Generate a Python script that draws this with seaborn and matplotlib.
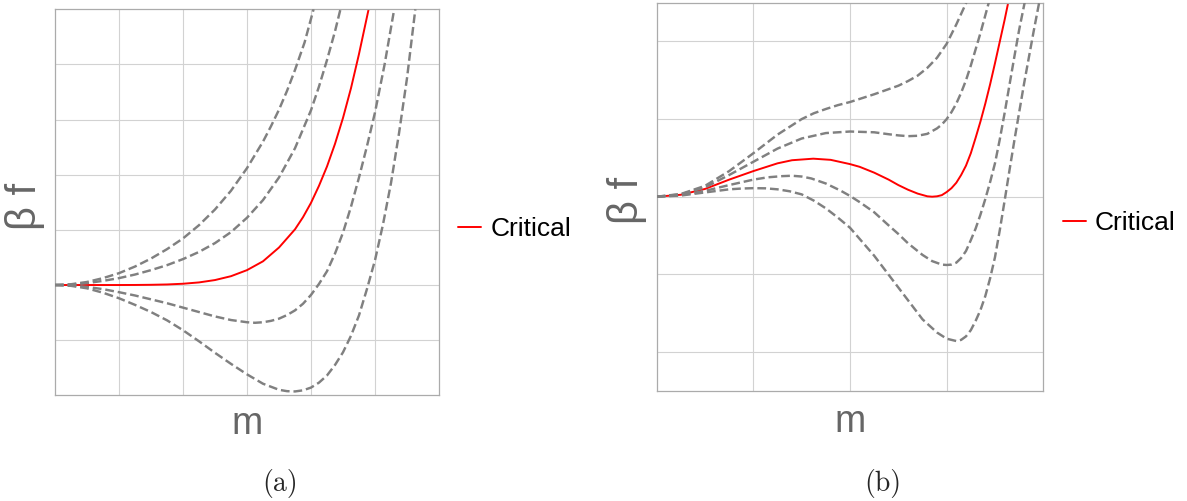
import numpy as np
import matplotlib
matplotlib.use("Agg")
import matplotlib.pyplot as plt
import seaborn as sns

sns.set_style("whitegrid", {"grid.color": "#d2d2d2", "axes.edgecolor": "#ababab"})
plt.rcParams['font.family'] = ['Liberation Sans', 'DejaVu Sans']

# panel (a): curves, from top to bottom
a_m1 = [0, 0.25, 0.5, 0.75, 1.0, 1.25, 1.5, 1.75, 2.0, 2.25, 2.5, 2.75, 3.0, 3.25, 3.375, 3.5, 3.625, 3.75, 3.9, 4.04]
a_f1 = [0, 0.014, 0.055, 0.125, 0.215, 0.335, 0.48, 0.65, 0.845, 1.085, 1.37, 1.71, 2.12, 2.6, 2.88, 3.18, 3.52, 3.9, 4.4, 5.0]
a_m2 = [0, 0.25, 0.5, 0.75, 1.0, 1.25, 1.5, 1.75, 2.0, 2.25, 2.5, 2.75, 3.0, 3.25, 3.5, 3.75, 4.0, 4.125, 4.25, 4.375, 4.46]
a_f2 = [0, 0.008, 0.035, 0.075, 0.125, 0.19, 0.27, 0.36, 0.47, 0.6, 0.76, 0.96, 1.22, 1.54, 1.95, 2.48, 3.17, 3.6, 4.08, 4.6, 5.0]
a_mc = [0, 0.5, 0.75, 1.0, 1.25, 1.5, 1.75, 2.0, 2.25, 2.5, 2.75, 3.0, 3.25, 3.5, 3.75, 3.875, 4.0, 4.125, 4.25, 4.375, 4.5, 4.625, 4.75, 4.9]
a_fc = [0, 0.0, 0.0, 0.0, 0.001, 0.004, 0.01, 0.023, 0.047, 0.09, 0.16, 0.27, 0.43, 0.68, 1.01, 1.23, 1.49, 1.8, 2.15, 2.56, 3.03, 3.57, 4.19, 5.0]
a_m4 = [0, 0.25, 0.5, 0.75, 1.0, 1.25, 1.5, 1.75, 2.0, 2.25, 2.5, 2.75, 3.0, 3.125, 3.25, 3.375, 3.5, 3.625, 3.75, 3.875,
        4.0, 4.125, 4.25, 4.375, 4.5, 4.625, 4.75, 4.875, 5.0, 5.15, 5.3]
a_f4 = [0, -0.008, -0.035, -0.075, -0.13, -0.19, -0.26, -0.33, -0.41, -0.49, -0.57, -0.635, -0.675, -0.685, -0.675, -0.65, -0.61, -0.545, -0.46, -0.34,
        -0.18, 0.02, 0.25, 0.57, 0.95, 1.42, 1.95, 2.52, 3.13, 4.0, 5.0]
a_m5 = [0, 0.25, 0.5, 0.75, 1.0, 1.25, 1.5, 1.75, 2.0, 2.25, 2.5, 2.75, 3.0, 3.25, 3.5, 3.625, 3.75, 3.875, 4.0, 4.125, 4.25,
        4.375, 4.5, 4.625, 4.75, 4.875, 5.0, 5.125, 5.25, 5.375, 5.5, 5.63]
a_f5 = [0, -0.015, -0.06, -0.14, -0.24, -0.36, -0.49, -0.64, -0.82, -1.02, -1.23, -1.43, -1.62, -1.79, -1.9, -1.925, -1.93, -1.91, -1.86, -1.77, -1.64,
        -1.45, -1.22, -0.92, -0.55, -0.07, 0.45, 1.1, 1.85, 2.75, 3.75, 5.0]

# panel (b)
b_m1 = [0, 0.25, 0.5, 0.75, 1.0, 1.25, 1.5, 1.625, 1.75, 1.875, 2.0, 2.25, 2.5, 2.6, 2.7, 2.8, 2.9, 3.0, 3.1, 3.21]
b_f1 = [0, 0.035, 0.14, 0.33, 0.56, 0.80, 1.0, 1.075, 1.13, 1.18, 1.22, 1.32, 1.43, 1.49, 1.56, 1.66, 1.79, 1.97, 2.22, 2.52]
b_m2 = [0, 0.25, 0.5, 0.75, 1.0, 1.25, 1.5, 1.75, 2.0, 2.25, 2.4, 2.5, 2.6, 2.7, 2.8, 2.9, 2.95, 3.0, 3.05, 3.1,
        3.15, 3.2, 3.25, 3.3, 3.35, 3.44]
b_f2 = [0, 0.03, 0.12, 0.28, 0.45, 0.62, 0.75, 0.82, 0.84, 0.83, 0.805, 0.79, 0.78, 0.785, 0.81, 0.88, 0.93, 1.0, 1.09, 1.2,
        1.34, 1.5, 1.69, 1.9, 2.11, 2.52]
b_mc = [0, 0.25, 0.5, 0.75, 1.0, 1.25, 1.4, 1.62, 1.8, 2.0, 2.1, 2.25, 2.4, 2.5, 2.6, 2.7, 2.8, 2.85, 2.9, 2.95, 3.0,
        3.05, 3.1, 3.15, 3.2, 3.25, 3.3, 3.35, 3.4, 3.45, 3.5, 3.55, 3.6, 3.64]
b_fc = [0, 0.025, 0.10, 0.22, 0.33, 0.43, 0.47, 0.49, 0.475, 0.42, 0.385, 0.31, 0.22, 0.15, 0.09, 0.04, 0.005, 0.0, 0.005, 0.02, 0.06,
        0.11, 0.18, 0.28, 0.4, 0.56, 0.76, 0.97, 1.2, 1.45, 1.72, 2.0, 2.28, 2.52]
b_m4 = [0, 0.25, 0.5, 0.75, 1.0, 1.15, 1.3, 1.4, 1.5, 1.6, 1.75, 1.9, 2.0, 2.1, 2.25, 2.4, 2.5, 2.6, 2.75, 2.85, 2.95, 3.0,
        3.05, 3.1, 3.15, 3.2, 3.25, 3.3, 3.35, 3.4, 3.45, 3.5, 3.55, 3.6, 3.65, 3.7, 3.75, 3.81]
b_f4 = [0, 0.02, 0.075, 0.15, 0.22, 0.25, 0.265, 0.27, 0.26, 0.235, 0.17, 0.08, 0.01, -0.07, -0.2, -0.37, -0.48, -0.6, -0.75, -0.83, -0.875, -0.88,
        -0.875, -0.85, -0.79, -0.70, -0.56, -0.41, -0.23, -0.03, 0.19, 0.43, 0.74, 1.08, 1.44, 1.8, 2.15, 2.52]
b_m5 = [0, 0.25, 0.5, 0.75, 0.875, 1.0, 1.125, 1.25, 1.375, 1.5, 1.625, 1.75, 1.875, 2.0, 2.25, 2.5, 2.75, 2.9, 3.0, 3.1,
        3.15, 3.2, 3.25, 3.3, 3.35, 3.4, 3.45, 3.5, 3.55, 3.6, 3.65, 3.7, 3.8, 3.9, 3.96]
b_f5 = [0, 0.015, 0.055, 0.095, 0.105, 0.11, 0.108, 0.095, 0.07, 0.03, -0.05, -0.15, -0.27, -0.40, -0.76, -1.17, -1.58, -1.75, -1.83, -1.86,
        -1.845, -1.8, -1.72, -1.6, -1.46, -1.28, -1.05, -0.78, -0.43, -0.05, 0.34, 0.72, 1.45, 2.13, 2.52]

legend_label = "Critical"
captions = ["(a)", "(b)"]

W, H = 1187, 501
fig = plt.figure(figsize=(W / 100, H / 100), dpi=100)
ax_a = fig.add_axes([55 / W, (H - 395.3) / H, 384 / W, 386 / H])
ax_b = fig.add_axes([656.7 / W, (H - 390.7) / H, 386.6 / W, 388 / H])

dash = dict(color="#808080", linewidth=1.75, linestyle=(0, (3.6, 1.6)))
red = dict(color="#ff0000", linewidth=1.4)

panels = [
    (ax_a, [(a_m1, a_f1), (a_m2, a_f2), (a_m4, a_f4), (a_m5, a_f5)], (a_mc, a_fc),
     (0, 6), (-2, 5), range(1, 6), range(-1, 5), -0.100),
    (ax_b, [(b_m1, b_f1), (b_m2, b_f2), (b_m4, b_f4), (b_m5, b_f5)], (b_mc, b_fc),
     (0, 4), (-2.5, 2.5), range(1, 4), range(-2, 3), -0.106),
]

for ax, dashed, crit, xl, yl, xt, yt, mpos in panels:
    sns.lineplot(x=crit[0], y=crit[1], ax=ax, sort=False, estimator=None,
                 label=legend_label, zorder=2, **red)
    for m, f in dashed:
        sns.lineplot(x=m, y=f, ax=ax, sort=False, estimator=None, zorder=3, **dash)
    ax.set_xlim(*xl)
    ax.set_ylim(*yl)
    ax.set_xticks(list(xt))
    ax.set_yticks(list(yt))
    ax.set_xticklabels([])
    ax.set_yticklabels([])
    ax.tick_params(length=0)
    ax.grid(True, linewidth=0.8)
    for s in ax.spines.values():
        s.set_linewidth(0.9)
        s.set_color("#ababab")
    ax.set_xlabel("m", fontsize=27, color="#666666")
    ax.xaxis.label.set_va("baseline")
    ax.xaxis.set_label_coords(0.5, mpos)
    ax.set_ylabel("β f", fontsize=30, color="#666666")
    ax.yaxis.label.set_va("center")
    ax.yaxis.set_label_coords(-0.078, 0.49)
    ax.legend(loc="center left", bbox_to_anchor=(1.05, 0.431), frameon=False,
              fontsize=19, labelcolor="black", handlelength=0.88, handletextpad=0.34,
              borderpad=0, borderaxespad=0)

fig.text(280 / W, 1 - 484 / H, captions[0], ha="center", va="center",
         fontfamily="cmr10", fontsize=20)
fig.text(883 / W, 1 - 484 / H, captions[1], ha="center", va="center",
         fontfamily="cmr10", fontsize=20)

fig.savefig("out.png", dpi=100)
